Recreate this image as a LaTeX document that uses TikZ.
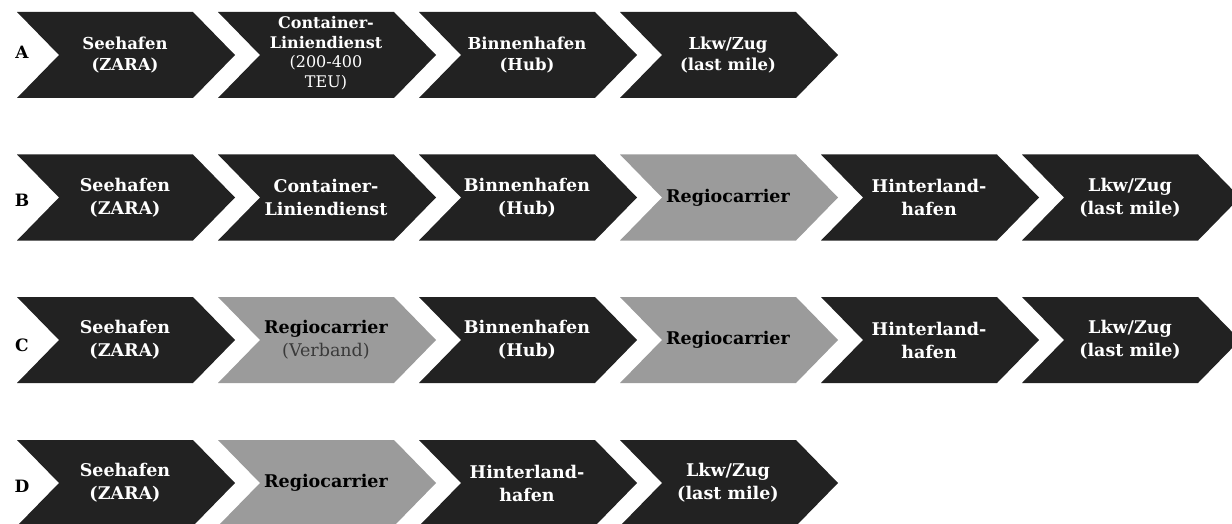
\documentclass[tikz,border=0pt]{standalone}
\usepackage{fontspec}
\setmainfont{DejaVu Serif}
\definecolor{chevdark}{HTML}{222222}
\definecolor{chevgray}{HTML}{9B9B9B}
\definecolor{subgray}{HTML}{3A3A3A}
\tikzset{
  darkfill/.style={fill=chevdark},
  grayfill/.style={fill=chevgray},
  darktext/.style={text=white, font=\bfseries\fontsize{17.5}{23}\selectfont, align=center, inner sep=0pt},
  graytext/.style={text=black, font=\bfseries\fontsize{17.5}{23}\selectfont, align=center, inner sep=0pt},
  rowatext/.style={font=\bfseries\fontsize{16.5}{21}\selectfont},
  smalltext/.style={font=\bfseries\fontsize{16}{19.5}\selectfont},
  rowlabel/.style={text=black, font=\bfseries\fontsize{17}{19}\selectfont, inner sep=0pt},
}
\newcommand\chevron[6][]{% #1 extra text style, #2 name, #3 left x, #4 centre y, #5 kind (dark/gray), #6 text
  \fill[#5fill] (#3,#4-43) -- ++(176,0) -- ++(42,43) -- ++(-42,43) -- ++(-176,0) -- ++(42,-43) -- cycle;
  \node[#5text,#1] (#2) at (#3+108,#4) {#6};
}
\begin{document}
\begin{tikzpicture}[x=1pt,y=-1pt]
\useasboundingbox (0,0) rectangle (1232,524);
% Row A
\node[rowlabel] (la) at (22,52) {A};
\chevron[rowatext]{a1}{17}{55}{dark}{Seehafen\\(ZARA)}
\chevron[smalltext, yshift=2pt]{a2}{218}{55}{dark}{Container-\\Liniendienst\\\mdseries (200-400\\\mdseries TEU)}
\chevron[rowatext]{a3}{419}{55}{dark}{Binnenhafen\\(Hub)}
\chevron[rowatext]{a4}{620}{55}{dark}{Lkw/Zug\\(last mile)}
% Row B
\node[rowlabel] (lb) at (22,200) {B};
\chevron{b1}{17}{197.5}{dark}{Seehafen\\(ZARA)}
\chevron{b2}{218}{197.5}{dark}{Container-\\Liniendienst}
\chevron{b3}{419}{197.5}{dark}{Binnenhafen\\(Hub)}
\chevron{b4}{620}{197.5}{gray}{Regiocarrier}
\chevron{b5}{821}{197.5}{dark}{Hinterland-\\hafen}
\chevron{b6}{1022}{197.5}{dark}{Lkw/Zug\\(last mile)}
% Row C
\node[rowlabel] (lc) at (22,345) {C};
\chevron{c1}{17}{340}{dark}{Seehafen\\(ZARA)}
\chevron{c2}{218}{340}{gray}{Regiocarrier\\\mdseries\color{subgray}(Verband)}
\chevron{c3}{419}{340}{dark}{Binnenhafen\\(Hub)}
\chevron{c4}{620}{340}{gray}{Regiocarrier}
\chevron{c5}{821}{340}{dark}{Hinterland-\\hafen}
\chevron{c6}{1022}{340}{dark}{Lkw/Zug\\(last mile)}
% Row D
\node[rowlabel] (ld) at (22,486) {D};
\chevron{d1}{17}{483}{dark}{Seehafen\\(ZARA)}
\chevron{d2}{218}{483}{gray}{Regiocarrier}
\chevron{d3}{419}{483}{dark}{Hinterland-\\hafen}
\chevron{d4}{620}{483}{dark}{Lkw/Zug\\(last mile)}
\end{tikzpicture}
\end{document}
